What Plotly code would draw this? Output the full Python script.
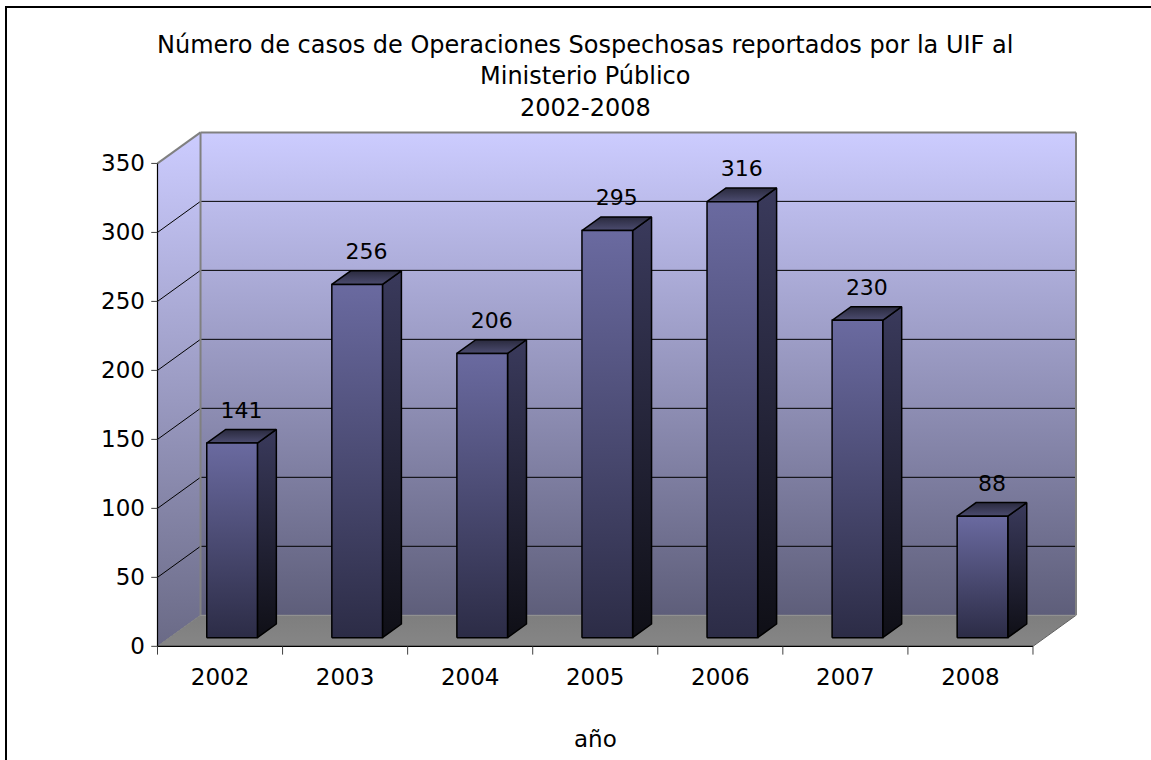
import plotly.graph_objects as go

# ---------------- data ----------------
years = ["2002", "2003", "2004", "2005", "2006", "2007", "2008"]
casos = [141, 256, 206, 295, 316, 230, 88]
y_ticks = [0, 50, 100, 150, 200, 250, 300, 350]
title_lines = ["Número de casos de Operaciones Sospechosas reportados por la UIF al",
               "Ministerio Público", "2002-2008"]
x_title = "año"

# ---------------- 3D geometry (pseudo-perspective) ----------------
DX, DY = 0.344, 22.5          # depth offset of back wall in axis units
D_FRONT, D_BACK = 0.28, 0.72  # bar depth position
BAR_W = 0.405
YMAX = 350
N = len(years)
FONT = "DejaVu Sans"


def P(x, v, d):
    return x + DX * d, v + DY * d


def poly(points):
    xs = [p[0] for p in points] + [points[0][0]]
    ys = [p[1] for p in points] + [points[0][1]]
    return xs, ys


fig = go.Figure()


def face(points, colors, line_color, line_width, y0=None, y1=None):
    xs, ys = poly(points)
    lo = min(ys) if y0 is None else y0
    hi = max(ys) if y1 is None else y1
    fig.add_trace(go.Scatter(
        x=xs, y=ys, mode="lines", fill="toself",
        fillgradient=dict(type="vertical", start=lo, stop=hi,
                          colorscale=[[0, colors[0]], [1, colors[1]]]),
        line=dict(color=line_color, width=line_width),
        hoverinfo="skip", showlegend=False))


def seg(p0, p1, color, width):
    fig.add_trace(go.Scatter(x=[p0[0], p1[0]], y=[p0[1], p1[1]], mode="lines",
                             line=dict(color=color, width=width),
                             hoverinfo="skip", showlegend=False))


# back wall
face([P(0, 0, 1), P(N, 0, 1), P(N, YMAX, 1), P(0, YMAX, 1)],
     ["#5e5e7a", "#ccccff"], "rgba(0,0,0,0)", 0)
# left wall
face([P(0, 0, 0), P(0, 0, 1), P(0, YMAX, 1), P(0, YMAX, 0)],
     ["#6a6a86", "#ccccff"], "rgba(0,0,0,0)", 0, 0, YMAX + DY)
# floor
face([P(0, 0, 0), P(N, 0, 0), P(N, 0, 1), P(0, 0, 1)],
     ["#868686", "#7e7e7e"], "rgba(0,0,0,0)", 0)

# gridlines
for t in y_ticks[1:-1]:
    seg(P(0, t, 0), P(0, t, 1), "#000000", 1)
    seg(P(0, t, 1), P(N, t, 1), "#000000", 1)

# wall edges
seg(P(0, 0, 1), P(0, YMAX, 1), "#808080", 2)
seg(P(0, YMAX, 0), P(0, YMAX, 1), "#808080", 2)
seg(P(0, YMAX, 1), P(N, YMAX, 1), "#808080", 2)
seg(P(N, 0, 1), P(N, YMAX, 1), "#808080", 2)
seg(P(0, 0, 0), P(0, 0, 1), "#808080", 1)
seg(P(N, 0, 0), P(N, 0, 1), "#606060", 1)
seg(P(0, 0, 1), P(N, 0, 1), "#909090", 1)

# front axes
seg(P(0, 0, 0), P(0, YMAX, 0), "#000000", 1.2)
seg(P(0, 0, 0), P(N, 0, 0), "#000000", 1.2)
for t in y_ticks:
    seg((-0.05, t), (0, t), "#404040", 1)
for k in range(N + 1):
    seg((k, 0), (k, -6), "#404040", 1)

# bars
for i, v in enumerate(casos):
    xl = i + 0.5 - BAR_W / 2
    xr = i + 0.5 + BAR_W / 2
    # side
    face([P(xr, 0, D_FRONT), P(xr, v, D_FRONT), P(xr, v, D_BACK), P(xr, 0, D_BACK)],
         ["#0f0f16", "#3a3a5c"], "#000000", 1.5)
    # top
    face([P(xl, v, D_FRONT), P(xr, v, D_FRONT), P(xr, v, D_BACK), P(xl, v, D_BACK)],
         ["#4c4c70", "#2a2a3e"], "#000000", 1.5)
    # front
    face([P(xl, 0, D_FRONT), P(xr, 0, D_FRONT), P(xr, v, D_FRONT), P(xl, v, D_FRONT)],
         ["#2c2c46", "#6a6aa0"], "#000000", 1.5)

# data labels
fig.add_trace(go.Scatter(
    x=[i + 0.5 + DX * 0.5 for i in range(N)],
    y=[v + DY * 0.5 + 17.5 for v in casos],
    mode="text", text=[str(v) for v in casos],
    textposition="middle center",
    textfont=dict(family=FONT, size=22, color="#000000"),
    hoverinfo="skip", showlegend=False, cliponaxis=False))

# ---------------- layout ----------------
L, R, T, B = 150, 73, 131, 104
W, H = 1151, 760
pw, ph = W - L - R, H - T - B


def px2paper_x(px):
    return (px - L) / pw


def px2paper_y(py):
    return (H - B - py) / ph


annotations = []
for line, ypx in zip(title_lines, [45, 76, 108]):
    annotations.append(dict(text=line, xref="paper", yref="paper",
                            x=px2paper_x(585), y=px2paper_y(ypx),
                            xanchor="center", yanchor="middle", showarrow=False,
                            font=dict(family=FONT, size=24, color="#000000")))
annotations.append(dict(text=x_title, xref="x", yref="paper",
                        x=N / 2, y=px2paper_y(739),
                        xanchor="center", yanchor="middle", showarrow=False,
                        font=dict(family=FONT, size=23, color="#000000")))

fig.update_layout(
    width=W, height=H,
    margin=dict(l=L, r=R, t=T, b=B),
    paper_bgcolor="#ffffff", plot_bgcolor="#ffffff",
    showlegend=False,
    xaxis=dict(range=[-0.06, N + DX + 0.016], showgrid=False, zeroline=False,
               showline=False, ticks="",
               tickmode="array", tickvals=[i + 0.5 for i in range(N)], ticktext=years,
               tickfont=dict(family=FONT, size=23, color="#000000"),
               ticklabelstandoff=5, fixedrange=True),
    yaxis=dict(range=[-7, YMAX + DY + 1], showgrid=False, zeroline=False,
               showline=False, ticks="",
               tickmode="array", tickvals=y_ticks,
               tickfont=dict(family=FONT, size=23, color="#000000"),
               ticklabelstandoff=4, fixedrange=True),
    annotations=annotations,
    shapes=[dict(type="rect", xref="paper", yref="paper",
                 x0=px2paper_x(6), x1=px2paper_x(1170),
                 y0=px2paper_y(775), y1=px2paper_y(7),
                 line=dict(color="#000000", width=2), fillcolor="rgba(0,0,0,0)",
                 layer="above")],
)

fig.write_html("out.html", config={"displayModeBar": False},
               post_script="document.body.style.margin='0';")
